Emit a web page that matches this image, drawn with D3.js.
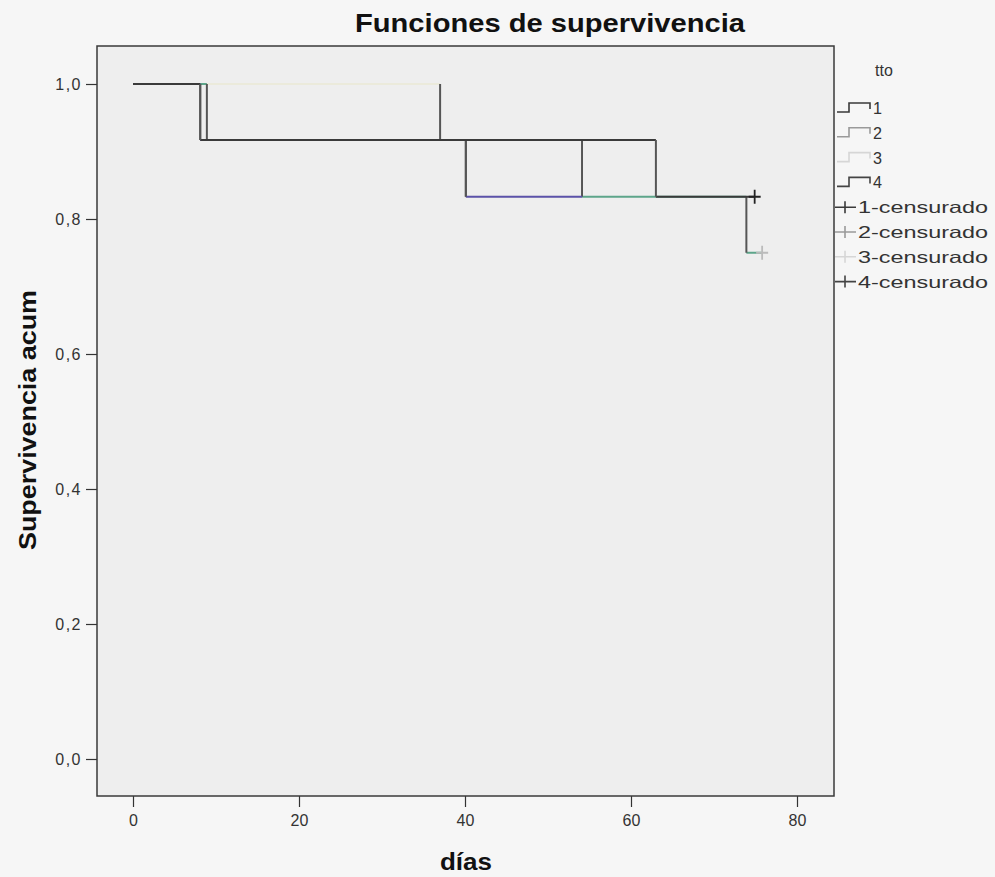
<!DOCTYPE html>
<html>
<head>
<meta charset="utf-8">
<script src="https://cdn.jsdelivr.net/npm/d3@7"></script>
<style>
  body { margin: 0; background: #f6f6f6; }
  svg { display: block; font-family: "Liberation Sans", Arial, sans-serif; }
</style>
</head>
<body>
<svg id="viz" width="995" height="877"></svg>
<script>
// grupos de tratamiento (tto)
const groups = ['1', '2', '3', '4'];
// instantes de cada escalón y supervivencia acumulada tras él
const stepDays = [
  [0, 8.1, 63.0],
  [0, 8.9, 54.1, 73.9],
  [0, 37.0, 40.1],
  [0, 8.1, 40.1]
];
const stepSurv = [
  [1, 0.917, 0.833],
  [1, 0.917, 0.833, 0.75],
  [1, 0.917, 0.833],
  [1, 0.917, 0.833]
];
const lastDay = [74.9, 75.8, 54.1, 54.1];
const censoredDays = [[74.9], [75.8], [], []];

const xTicks = [0, 20, 40, 60, 80];
const yTicks = [0, 0.2, 0.4, 0.6, 0.8, 1.0];

const lineColor = ['#3a3a3a', '#5da58a', '#ebeadb', '#5b52aa'];
const legendColor = ['#3a3a3a', '#9a9a9a', '#d6d6d6', '#444444'];
const riserColor = '#555555';
const drawOrder = [2, 1, 3, 0];

const svg = d3.select('#viz');

const frame = { left: 97, top: 46, right: 834, bottom: 796 };

const x = d3.scaleLinear().domain([0, 80]).range([133, 797]);
const y = d3.scaleLinear().domain([0, 1]).range([759, 84]);

// plot background
svg
  .append('rect')
  .attr('x', frame.left)
  .attr('y', frame.top)
  .attr('width', frame.right - frame.left)
  .attr('height', frame.bottom - frame.top)
  .attr('fill', '#eeeeee');

// axes
svg
  .append('g')
  .attr('transform', 'translate(' + frame.left + ',0)')
  .call(d3.axisLeft(y).tickValues(yTicks).tickSize(11).tickPadding(4)
    .tickFormat((d) => d3.format('.1f')(d).replace('.', ',')))
  .call((g) => g.select('.domain').remove())
  .call((g) => g.selectAll('line').attr('stroke', '#333').attr('stroke-width', 1.2))
  .call((g) => g.selectAll('text').attr('fill', '#333').style('font-size', '16px')
    .style('letter-spacing', '1.5px'));

svg
  .append('g')
  .attr('transform', 'translate(0,' + frame.bottom + ')')
  .call(d3.axisBottom(x).tickValues(xTicks).tickSize(11).tickPadding(8))
  .call((g) => g.select('.domain').remove())
  .call((g) => g.selectAll('line').attr('stroke', '#333').attr('stroke-width', 1.2))
  .call((g) => g.selectAll('text').attr('fill', '#333').style('font-size', '16px'));

// survival curves: horizontal runs in series colour, risers dark
const plot = svg.append('g');
drawOrder.forEach((gi) => {
  const t = stepDays[gi];
  const s = stepSurv[gi];
  const runs = t.map((d, i) => [d, i < t.length - 1 ? t[i + 1] : lastDay[gi], s[i]]);
  plot
    .append('g')
    .selectAll('line')
    .data(runs)
    .join('line')
    .attr('x1', (d) => x(d[0]))
    .attr('x2', (d) => x(d[1]))
    .attr('y1', (d) => y(d[2]))
    .attr('y2', (d) => y(d[2]))
    .attr('stroke', lineColor[gi])
    .attr('stroke-width', 2);
  plot
    .append('g')
    .selectAll('line')
    .data(t.slice(1).map((d, i) => [d, s[i], s[i + 1]]))
    .join('line')
    .attr('x1', (d) => x(d[0]))
    .attr('x2', (d) => x(d[0]))
    .attr('y1', (d) => y(d[1]))
    .attr('y2', (d) => y(d[2]))
    .attr('stroke', riserColor)
    .attr('stroke-width', 2);
  // censored marks
  plot
    .append('g')
    .selectAll('path')
    .data(censoredDays[gi])
    .join('path')
    .attr('d', (d) => {
      const cx = x(d);
      const cy = y(s[s.length - 1]);
      return 'M' + (cx - 6) + ',' + cy + 'H' + (cx + 6) + 'M' + cx + ',' + (cy - 7) + 'V' + (cy + 7);
    })
    .attr('stroke', gi == 0 ? '#222' : '#bbb')
    .attr('stroke-width', 1.8)
    .attr('fill', 'none');
});

// frame
svg
  .append('rect')
  .attr('x', frame.left)
  .attr('y', frame.top)
  .attr('width', frame.right - frame.left)
  .attr('height', frame.bottom - frame.top)
  .attr('fill', 'none')
  .attr('stroke', '#3a3a3a')
  .attr('stroke-width', 1.5);

// title and axis labels
svg
  .append('text')
  .attr('x', 550)
  .attr('y', 32)
  .attr('text-anchor', 'middle')
  .attr('textLength', 390)
  .attr('lengthAdjust', 'spacingAndGlyphs')
  .style('font-size', '26px')
  .style('font-weight', 'bold')
  .attr('fill', '#111')
  .text('Funciones de supervivencia');

svg
  .append('text')
  .attr('transform', 'rotate(-90)')
  .attr('x', -420)
  .attr('y', 36)
  .attr('text-anchor', 'middle')
  .attr('textLength', 260)
  .attr('lengthAdjust', 'spacingAndGlyphs')
  .style('font-size', '23px')
  .style('font-weight', 'bold')
  .attr('fill', '#111')
  .text('Supervivencia acum');

svg
  .append('text')
  .attr('x', 466)
  .attr('y', 870)
  .attr('text-anchor', 'middle')
  .attr('textLength', 52)
  .attr('lengthAdjust', 'spacingAndGlyphs')
  .style('font-size', '24px')
  .style('font-weight', 'bold')
  .attr('fill', '#111')
  .text('días');

// legend
const legend = svg.append('g');
legend
  .append('text')
  .attr('x', 884)
  .attr('y', 76)
  .attr('text-anchor', 'middle')
  .style('font-size', '16px')
  .attr('fill', '#333')
  .text('tto');

const legendRows = groups.map((g, i) => ({ label: g, kind: 'step', color: legendColor[i] }))
  .concat(groups.map((g, i) => ({ label: g + '-censurado', kind: 'cens', color: legendColor[i] })));

const rows = legend
  .selectAll('g.row')
  .data(legendRows)
  .join('g')
  .attr('class', 'row')
  .attr('transform', (d, i) => 'translate(0,' + (108 + i * 24.8) + ')');

rows
  .append('path')
  .attr('d', (d) => d.kind == 'step'
    ? 'M837,4H849V-5H870V1'
    : 'M835,0H856M845,-6V6')
  .attr('stroke', (d) => d.color)
  .attr('stroke-width', 1.6)
  .attr('fill', 'none');

rows
  .append('text')
  .attr('x', (d) => (d.kind == 'step' ? 873 : 858))
  .attr('y', 6)
  .attr('textLength', (d) => (d.kind == 'step' ? 9 : 130))
  .attr('lengthAdjust', 'spacingAndGlyphs')
  .style('font-size', '16.5px')
  .attr('fill', '#333')
  .text((d) => d.label);
</script>
</body>
</html>
